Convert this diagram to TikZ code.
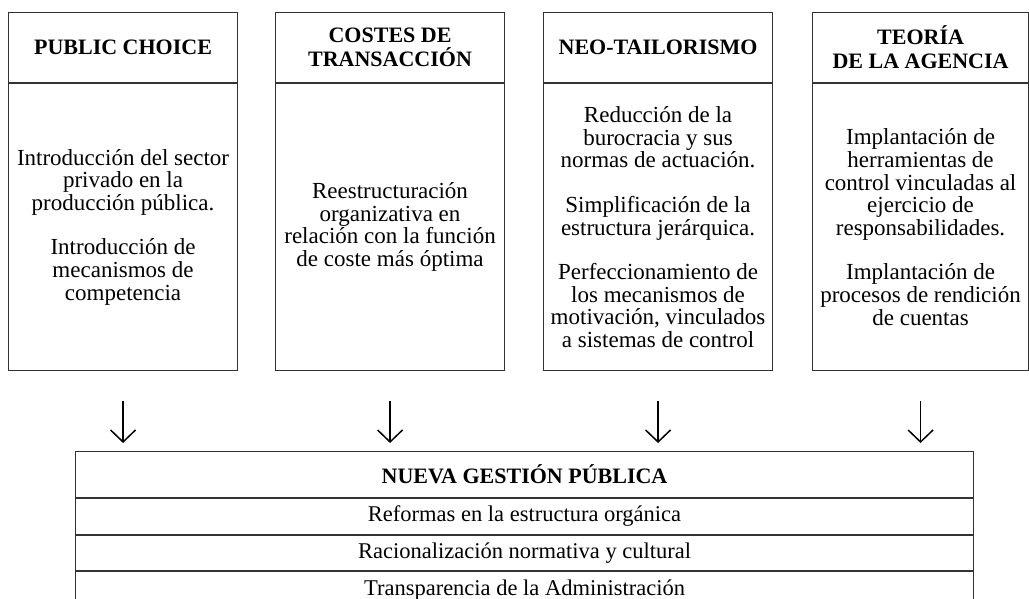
\documentclass[tikz,border=0pt]{standalone}
\usepackage{fontspec}
\setmainfont{Liberation Serif}
\usepackage{tikz}
\usetikzlibrary{positioning}
\usetikzlibrary{arrows.meta}

\begin{document}
\begin{tikzpicture}[x=1pt, y=-1pt,
        caja/.style={draw=black!80, line width=1.1pt, inner sep=0pt, align=center},
        cabecera/.style={caja, minimum width=229pt, minimum height=70pt, font=\fontsize{22}{24}\selectfont\bfseries},
        cuerpo/.style={caja, minimum width=229pt, minimum height=287pt, font=\fontsize{23}{22.6}\selectfont},
        fila/.style={caja, minimum width=898pt, minimum height=35.5pt, font=\fontsize{22.5}{24}\selectfont},
        flecha/.style={-{Straight Barb[length=12pt,width=25pt,line width=1.5pt]}, line width=1.2pt, shorten <=30pt, shorten >=8pt}]
                \useasboundingbox (0,0) rectangle (1029,599);
                \node[cabecera, anchor=north west] (cab1) at (8,12) {PUBLIC CHOICE};
                \node[cuerpo, below=0pt of cab1] (cue1) {Introducción del sector\\ privado en la\\ producción pública.\\[22pt] Introducción de\\ mecanismos de\\ competencia};
                \node[cabecera, anchor=north west] (cab2) at (275,12) {COSTES DE\\ TRANSACCIÓN};
                \node[cuerpo, below=0pt of cab2] (cue2) {Reestructuración\\ organizativa en\\ relación con la función\\ de coste más óptima};
                \node[cabecera, anchor=north west] (cab3) at (543,12) {NEO-TAILORISMO};
                \node[cuerpo, below=0pt of cab3] (cue3) {Reducción de la\\ burocracia y sus\\ normas de actuación.\\[22pt] Simplificación de la\\ estructura jerárquica.\\[22pt] Perfeccionamiento de\\ los mecanismos de\\ motivación, vinculados\\ a sistemas de control};
                \node[cabecera, anchor=north west, minimum width=216pt] (cab4) at (812,12) {TEORÍA\\ DE LA AGENCIA};
                \node[cuerpo, below=0pt of cab4, minimum width=216pt] (cue4) {Implantación de\\ herramientas de\\ control vinculadas al\\ ejercicio de\\ responsabilidades.\\[22pt] Implantación de\\ procesos de rendición\\ de cuentas};
                \node[fila, anchor=north west, minimum height=46pt, font=\fontsize{22}{24}\selectfont\bfseries] (ngp) at (75,451) {NUEVA GESTIÓN PÚBLICA};
                \node[fila, below=0pt of ngp] (fil1) {Reformas en la estructura orgánica};
                \node[fila, below=0pt of fil1] (fil2) {Racionalización normativa y cultural};
                \node[fila, below=0pt of fil2] (fil3) {Transparencia de la Administración};
                \foreach \i in {1,...,4}
                    \draw[flecha] (cue\i.south) -- (cue\i.south |- ngp.north);
            \end{tikzpicture}
\end{document}
